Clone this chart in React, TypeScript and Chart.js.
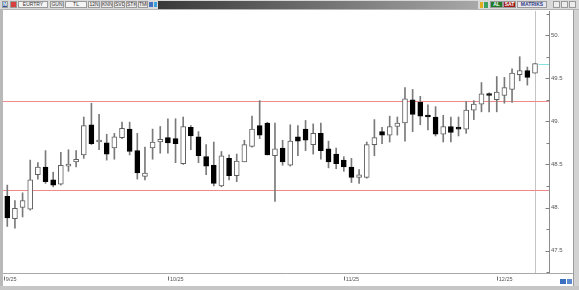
import React, { useEffect, useRef } from 'react';
import { Chart, registerables } from 'chart.js';

Chart.register(...registerables);

// ---- data (EURTRY daily candles) ----
const opens = [
  48.13, 47.87, 48.00, 47.98, 48.38, 48.47, 48.32, 48.27, 48.48, 48.53,
  48.61, 48.96, 48.76, 48.75, 48.69, 48.81, 48.91, 48.66, 48.36, 48.69,
  48.76, 48.81, 48.80, 48.51, 48.93, 48.82, 48.59, 48.49, 48.25, 48.57,
  48.37, 48.53, 48.71, 48.95, 48.98, 48.60, 48.69, 48.49, 48.82, 48.91,
  48.73, 48.86, 48.68, 48.62, 48.55, 48.47, 48.35, 48.35, 48.73, 48.88,
  48.84, 48.94, 48.98, 49.25, 49.22, 49.06, 49.05, 48.85, 48.94, 48.92,
  48.91, 49.13, 49.20, 49.32, 49.25, 49.30, 49.37, 49.54, 49.59, 49.56,
];
const highs = [
  48.26, 48.08, 48.17, 48.55, 48.52, 48.66, 48.41, 48.64, 48.67, 48.66,
  49.05, 49.21, 49.08, 48.85, 48.86, 48.99, 48.99, 48.86, 48.70, 48.91,
  48.94, 49.03, 49.03, 49.05, 48.95, 48.88, 48.73, 48.76, 48.65, 48.61,
  48.62, 48.78, 49.06, 49.24, 48.99, 48.98, 48.78, 48.96, 48.95, 49.01,
  48.97, 48.98, 48.77, 48.69, 48.59, 48.57, 48.44, 48.76, 49.02, 48.93,
  49.06, 49.05, 49.39, 49.37, 49.29, 49.19, 49.17, 49.07, 49.05, 49.05,
  49.23, 49.24, 49.45, 49.33, 49.52, 49.51, 49.61, 49.75, 49.63, 49.67,
];
const lows = [
  47.78, 47.76, 47.89, 47.97, 48.33, 48.28, 48.24, 48.26, 48.42, 48.47,
  48.57, 48.73, 48.67, 48.55, 48.56, 48.80, 48.61, 48.33, 48.32, 48.56,
  48.63, 48.63, 48.52, 48.50, 48.67, 48.52, 48.38, 48.25, 48.24, 48.32,
  48.30, 48.53, 48.70, 48.80, 48.61, 48.07, 48.49, 48.48, 48.60, 48.66,
  48.62, 48.56, 48.46, 48.45, 48.42, 48.29, 48.28, 48.34, 48.60, 48.74,
  48.76, 48.84, 48.77, 48.88, 48.96, 48.90, 48.83, 48.76, 48.76, 48.83,
  48.86, 49.02, 49.11, 49.11, 49.11, 49.21, 49.22, 49.47, 49.42, 49.56,
];
const closes = [
  47.88, 47.99, 48.08, 48.32, 48.47, 48.30, 48.26, 48.49, 48.50, 48.56,
  48.95, 48.74, 48.78, 48.62, 48.82, 48.92, 48.65, 48.40, 48.40, 48.76,
  48.79, 48.75, 48.74, 48.94, 48.83, 48.60, 48.48, 48.28, 48.60, 48.37,
  48.54, 48.73, 48.91, 48.84, 48.61, 48.68, 48.53, 48.77, 48.77, 48.78,
  48.86, 48.66, 48.53, 48.51, 48.47, 48.35, 48.38, 48.73, 48.81, 48.84,
  48.94, 48.98, 49.26, 49.08, 49.06, 49.05, 48.85, 48.94, 48.87, 48.91,
  49.13, 49.20, 49.32, 49.30, 49.34, 49.39, 49.56, 49.59, 49.51, 49.67,
];

const xTickIndex = [-0.45, 21, 44, 64];
const xTickLabels = ['9/25', '10/25', '11/25', '12/25'];
const yTicks = [47.5, 48, 48.5, 49, 49.5, 50];
const yMinorTicks = [47.25, 47.75, 48.25, 48.75, 49.25, 49.75, 50.25];
const resistanceLevel = 49.235;
const supportLevel = 48.205;

const FONT = 'Liberation Sans, Arial, sans-serif';

const overlayPlugin = {
  id: 'overlay',
  beforeDatasetsDraw(chart: any) {
    const { ctx, chartArea: a, scales } = chart;
    const x = scales.x, y = scales.y;
    ctx.save();
    ctx.lineWidth = 1;
    // current-bar vertical line
    const last = closes.length - 1;
    const xl = Math.round(x.getPixelForValue(last)) + 0.5;
    ctx.strokeStyle = '#c4c4c4';
    ctx.beginPath();
    ctx.moveTo(xl, a.top);
    ctx.lineTo(xl, a.bottom);
    ctx.stroke();
    // support / resistance lines
    ctx.strokeStyle = '#ee8a8a';
    [resistanceLevel, supportLevel].forEach((lvl) => {
      const yy = Math.round(y.getPixelForValue(lvl)) + 0.5;
      ctx.beginPath();
      ctx.moveTo(a.left, yy);
      ctx.lineTo(a.right, yy);
      ctx.stroke();
    });
    // last price marker
    const yc = Math.round(y.getPixelForValue(closes[last])) + 0.5;
    ctx.strokeStyle = '#86e0e0';
    ctx.beginPath();
    ctx.moveTo(xl + 3, yc);
    ctx.lineTo(a.right, yc);
    ctx.stroke();
    ctx.restore();
  },
  afterDraw(chart: any) {
    const { ctx, chartArea: a, scales } = chart;
    const x = scales.x, y = scales.y;
    ctx.save();
    ctx.lineWidth = 1;
    ctx.strokeStyle = '#808080';
    const rx = Math.round(a.right) - 0.5;
    yTicks.forEach((v) => {
      const yy = Math.round(y.getPixelForValue(v)) + 0.5;
      ctx.beginPath();
      ctx.moveTo(rx - 3, yy);
      ctx.lineTo(rx + 1, yy);
      ctx.stroke();
    });
    yMinorTicks.forEach((v) => {
      const yy = Math.round(y.getPixelForValue(v)) + 0.5;
      ctx.beginPath();
      ctx.moveTo(rx - 2, yy);
      ctx.lineTo(rx + 1, yy);
      ctx.stroke();
    });
    // separator between plot and date strip
    ctx.strokeStyle = '#a8a8a8';
    const sy = Math.round(a.bottom) + 0.5;
    ctx.beginPath();
    ctx.moveTo(0, sy);
    ctx.lineTo(573, sy);
    ctx.stroke();
    // date tick marks
    ctx.strokeStyle = '#707070';
    xTickIndex.forEach((idx) => {
      const px = Math.round(x.getPixelForValue(idx)) + 0.5;
      ctx.beginPath();
      ctx.moveTo(px, sy + 3);
      ctx.lineTo(px, sy + 7);
      ctx.stroke();
    });
    ctx.restore();
  },
};

function Box(props: { l: number; w: number; text?: string; bg?: string; color?: string; bold?: boolean }) {
  const { l, w, text, bg, color, bold } = props;
  return (
    <div
      style={{
        position: 'absolute', left: l, top: 1, width: w, height: 7,
        background: bg || '#ececec', border: '1px solid #9a9a9a', boxSizing: 'border-box',
        fontSize: 5, lineHeight: '5px', color: color || '#333', textAlign: 'center',
        fontWeight: bold ? 700 : 400, overflow: 'hidden', whiteSpace: 'nowrap',
      }}
    >
      {text}
    </div>
  );
}

export default function App() {
  const ref = useRef<HTMLCanvasElement | null>(null);

  useEffect(() => {
    if (!ref.current) return;
    const idx = closes.map((_, i) => i);
    const up = idx.map((i) => closes[i] >= opens[i]);
    const chart = new Chart(ref.current, {
      type: 'bar',
      data: {
        datasets: [
          {
            label: 'wick',
            data: idx.map((i) => ({ x: i, y: [lows[i], highs[i]] })) as any,
            backgroundColor: '#7a7a7a',
            borderWidth: 0,
            barThickness: 1,
            grouped: false,
            order: 2,
          } as any,
          {
            label: 'body',
            data: idx.map((i) => ({ x: i, y: [opens[i], closes[i]] })) as any,
            backgroundColor: idx.map((i) => (up[i] ? '#ffffff' : '#000000')),
            borderColor: idx.map((i) => (up[i] ? '#606060' : '#000000')),
            borderWidth: 1,
            borderSkipped: false,
            barThickness: 5,
            minBarLength: 2,
            grouped: false,
            order: 1,
          } as any,
        ],
      },
      options: {
        responsive: false,
        animation: false,
        events: [],
        layout: { padding: { left: 3, top: 11, right: 0, bottom: 0 } },
        plugins: { legend: { display: false }, tooltip: { enabled: false } },
        scales: {
          x: {
            type: 'linear',
            min: -0.56,
            max: 70.83,
            offset: false,
            grid: { display: false, drawTicks: false },
            border: { display: false },
            afterBuildTicks: (s: any) => {
              s.ticks = xTickIndex.map((v) => ({ value: v }));
            },
            afterFit: (s: any) => {
              s.height = 17;
            },
            ticks: {
              autoSkip: false,
              maxRotation: 0,
              align: 'start',
              labelOffset: 2,
              padding: 3,
              color: '#555',
              font: { size: 5.5, family: FONT },
              callback: (v: any) => {
                const k = xTickIndex.indexOf(v);
                return k >= 0 ? xTickLabels[k] : '';
              },
            },
          } as any,
          y: {
            type: 'linear',
            position: 'right',
            min: 47.24,
            max: 50.28,
            grid: { display: false, drawTicks: false },
            border: { display: true, color: '#8c8c8c' },
            afterBuildTicks: (s: any) => {
              s.ticks = yTicks.map((v) => ({ value: v }));
            },
            afterFit: (s: any) => {
              s.width = 30;
            },
            ticks: {
              padding: 2,
              color: '#555',
              font: { size: 6, family: FONT },
              callback: (v: any) => (Number.isInteger(v) ? v + '.' : Number(v).toFixed(1)),
            },
          } as any,
        },
      },
      plugins: [overlayPlugin],
    });
    return () => chart.destroy();
  }, []);

  return (
    <div
      style={{
        position: 'fixed', left: 0, top: 0, width: 579, height: 290, background: '#ffffff',
        overflow: 'hidden', fontFamily: FONT,
      }}
    >
      <canvas ref={ref} width={579} height={290} style={{ position: 'absolute', left: 0, top: 0, width: 579, height: 290 }} />
      {/* toolbar */}
      <div style={{ position: 'absolute', left: 0, top: 0, width: 579, height: 10, background: '#d9d9d9', borderBottom: '1px solid #b4b4b4', boxSizing: 'border-box' }} />
      <Box l={2} w={6} text="M" bg="#3050a0" color="#fff" bold />
      <Box l={10} w={7} text="" bg="#d84040" />
      <Box l={18} w={30} text="EURTRY" bg="#f4f4f4" />
      <Box l={50} w={14} text="GUN" />
      <Box l={65} w={22} text="TL" bg="#f4f4f4" />
      <Box l={88} w={12} text="12N" />
      <Box l={101} w={12} text="KNN" />
      <Box l={114} w={11} text="SVD" />
      <Box l={126} w={11} text="STKT" />
      <Box l={138} w={10} text="TMP" />
      <div style={{ position: 'absolute', left: 149, top: 2, width: 4, height: 5, background: '#4070c0' }} />
      <div style={{ position: 'absolute', left: 154, top: 2, width: 3, height: 5, background: '#3aa0e0' }} />
      <div style={{ position: 'absolute', left: 158, top: 1, width: 320, height: 8, background: 'linear-gradient(to right, #383838, #a8a8a8)' }} />
      <div style={{ position: 'absolute', left: 480, top: 2, width: 3, height: 6, background: '#e0b020' }} />
      <div style={{ position: 'absolute', left: 484, top: 2, width: 4, height: 6, background: '#40a060' }} />
      <Box l={490} w={13} text="AL" bg="#1f7a2a" color="#fff" bold />
      <Box l={503} w={13} text="SAT" bg="#a01818" color="#fff" bold />
      <Box l={517} w={30} text="MATRIKS" bg="#e8e8f0" color="#304080" bold />
      <Box l={553} w={7} />
      <Box l={561} w={7} />
      <Box l={569} w={7} />
      {/* frame */}
      <div style={{ position: 'absolute', left: 0, top: 10, width: 3, height: 280, background: '#b9b9b9' }} />
      <div style={{ position: 'absolute', left: 573, top: 10, width: 1, height: 276, background: '#9c9c9c' }} />
      <div style={{ position: 'absolute', left: 574, top: 10, width: 5, height: 280, background: '#d2d2d2' }} />
      <div style={{ position: 'absolute', left: 0, top: 286, width: 579, height: 4, background: '#c6c6c6' }} />
      <div style={{ position: 'absolute', left: 560, top: 279, width: 6, height: 5, background: '#3b6fc0' }} />
      <div style={{ position: 'absolute', left: 567, top: 279, width: 5, height: 5, background: '#5a8ad0' }} />
    </div>
  );
}
